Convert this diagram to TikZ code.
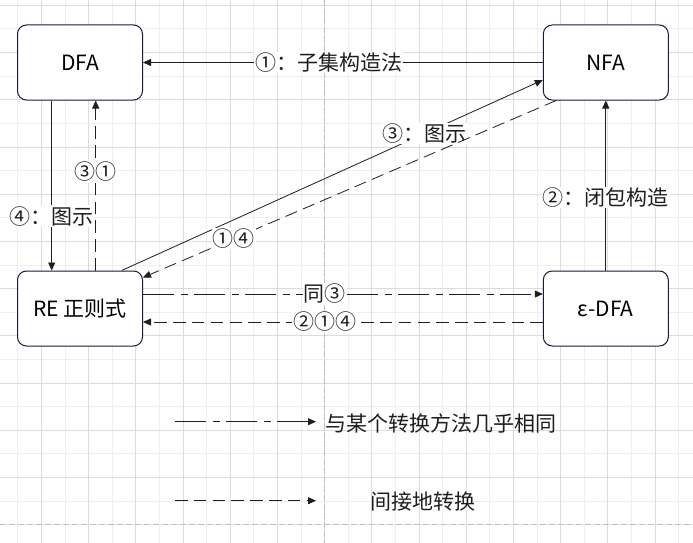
\documentclass[tikz,border=0pt]{standalone}
\usepackage{fontspec}
\setmainfont{Noto Sans CJK SC}
\usetikzlibrary{arrows.meta}
\definecolor{boxline}{RGB}{24,28,60}
\definecolor{linecol}{RGB}{30,30,30}
\definecolor{gridminor}{RGB}{238,238,238}
\definecolor{gridmajor}{RGB}{220,220,220}
\definecolor{pagebreak}{RGB}{190,190,190}
\begin{document}
\begin{tikzpicture}[x=1pt, y=-1pt,
		state/.style={draw=boxline, line width=1pt, rounded corners=9pt, fill=white, minimum width=125pt, minimum height=75pt, inner sep=0pt},
		conn/.style={draw=linecol, line width=0.8pt, -{Triangle[length=8pt,width=7pt]}},
		dashconn/.style={conn, dash pattern=on 12.5pt off 6.3pt},
		dotconn/.style={conn, dash pattern=on 31pt off 6.5pt on 7pt off 6.5pt},
		edgelabel/.style={fill=white, inner sep=1pt, text=linecol}]
				\newcommand{\myfontlabel}[1]{
					\fontsize{21}{25}\selectfont{#1}
				}%Background and page size
				\useasboundingbox (0,0) rectangle (693,543);
				\fill [white] (0,0) rectangle (693,543);
				%Grid lines, every second one darker
				\foreach \k in {-13,...,15} {
					\draw [gridminor, line width=0.8pt] ({324.5+23.6*\k},0) -- ({324.5+23.6*\k},543);
				}
				\foreach \k in {-1,...,22} {
					\draw [gridminor, line width=0.8pt] (0,{524.5-23.6*\k}) -- (693,{524.5-23.6*\k});
				}
				\foreach \k in {-12,-10,...,14} {
					\draw [gridmajor, line width=0.8pt] ({324.5+23.6*\k},0) -- ({324.5+23.6*\k},543);
				}
				\foreach \k in {2,4,...,22} {
					\draw [gridmajor, line width=0.8pt] (0,{524.5-23.6*\k}) -- (693,{524.5-23.6*\k});
				}
				%Page break lines
				\draw [pagebreak, line width=0.8pt, dash pattern=on 6pt off 3pt] (324.5,0) -- (324.5,543);
				\draw [pagebreak, line width=0.8pt, dash pattern=on 6pt off 3pt] (0,524.5) -- (693,524.5);
				%The four automata
				\node [state] (DFA) at (80,62.5) {\myfontlabel{DFA}};
				\node [state] (NFA) at (605.8,62.5) {\myfontlabel{NFA}};
				\node [state] (RE) at (80,308.5) {\myfontlabel{RE 正则式}};
				\node [state] (EDFA) at (605.8,308.5) {\myfontlabel{ε-DFA}};
				%NFA to DFA
				\draw [conn] (NFA.west) -- (DFA.east) node [edgelabel, pos=0.535] {\myfontlabel{①：子集构造法}};
				%DFA and RE, both directions
				\draw [conn] ([xshift=-28.3pt]DFA.south) -- ([xshift=-28.3pt]RE.north) node [edgelabel, pos=0.68] {\myfontlabel{④：图示}};
				\draw [dashconn] ([xshift=15.7pt]RE.north) -- ([xshift=15.7pt]DFA.south) node [edgelabel, pos=0.58] {\myfontlabel{③①}};
				%RE and NFA, both directions
				\draw [conn] ([xshift=41.7pt]RE.north) -- ([yshift=-17.5pt]NFA.west) node [edgelabel, pos=0.72] {\myfontlabel{③：图示}};
				\draw [dashconn] ([xshift=13.4pt]NFA.south west) -- ([yshift=-7pt]RE.north east) node [edgelabel, pos=0.78] {\myfontlabel{①④}};
				%e-DFA to NFA
				\draw [conn] (EDFA.north) -- (NFA.south) node [edgelabel, pos=0.43] {\myfontlabel{②：闭包构造}};
				%RE and e-DFA, both directions
				\draw [dotconn] ([yshift=14.5pt]RE.east) -- ([yshift=14.5pt]EDFA.west) node [edgelabel, pos=0.455] {\myfontlabel{同③}};
				\draw [dashconn] ([yshift=-13.5pt]EDFA.west) -- ([yshift=-13.5pt]RE.east) node [edgelabel, pos=0.545] {\myfontlabel{②①④}};
				%Legend
				\coordinate (dotStart) at (175,421.7);
				\coordinate (dotEnd) at (316,421.7);
				\draw [dotconn] (dotStart) -- (dotEnd);
				\node [text=linecol] (dotText) at (440.5,423) {\myfontlabel{与某个转换方法几乎相同}};
				\coordinate (dashStart) at (175,500.7);
				\coordinate (dashEnd) at (316,500.7);
				\draw [dashconn] (dashStart) -- (dashEnd);
				\node [text=linecol] (dashText) at (423.3,502) {\myfontlabel{间接地转换}};
				\end{tikzpicture}
\end{document}
